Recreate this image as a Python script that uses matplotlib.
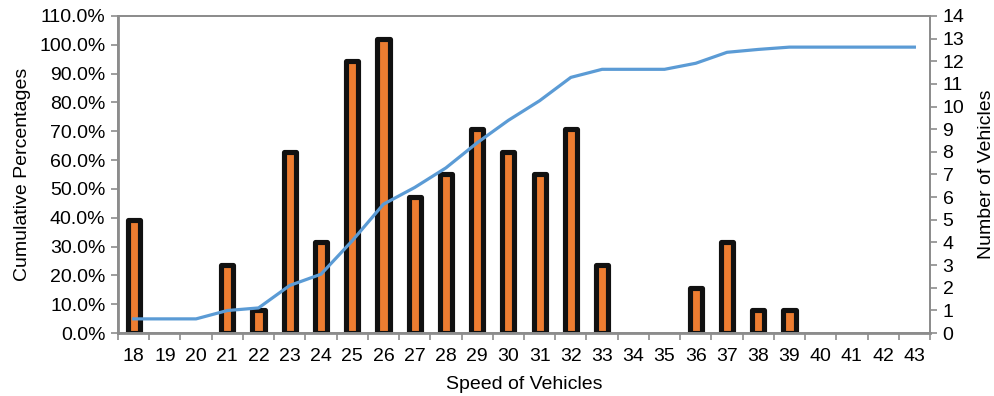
import matplotlib
matplotlib.use("Agg")
import matplotlib.pyplot as plt
from matplotlib.ticker import FixedLocator, FuncFormatter

plt.rcParams['font.family'] = ['Liberation Sans', 'DejaVu Sans']

speeds = list(range(18, 44))
vehicle_counts = [5, 0, 0, 3, 1, 8, 4, 12, 13, 6, 7, 9, 8, 7, 9, 3, 0, 0, 2, 4, 1, 1, 0, 0, 0, 0]
cumulative_pct = [4.9, 4.9, 4.9, 7.8, 8.7, 16.5, 20.4, 32.0, 44.7, 50.5, 57.3, 66.0, 73.8,
                  80.6, 88.7, 91.5, 91.5, 91.5, 93.6, 97.4, 98.4, 99.2, 99.2, 99.2, 99.2, 99.2]

spine_col = '#8C8C8C'
fs = 14

fig = plt.figure(figsize=(9.94, 3.96), dpi=100)
ax = fig.add_axes([118 / 994, 1 - 333 / 396, (930 - 118) / 994, (333 - 16) / 396])
ax2 = ax.twinx()

# counts on the right axis, drawn underneath
ax2.set_facecolor('#C0C0C0')
ax.set_zorder(ax2.get_zorder() + 1)
ax.patch.set_visible(False)

x = list(range(len(speeds)))
nonzero = [(i, c) for i, c in zip(x, vehicle_counts) if c > 0]
ax2.bar([i for i, _ in nonzero], [c for _, c in nonzero], width=0.39,
        color='#ED7D31', edgecolor='#111111', linewidth=3.7, joinstyle='round', zorder=2)
ax2.set_ylim(0, 14)
ax2.set_yticks(range(0, 15))
ax2.set_ylabel('Number of Vehicles', fontsize=fs, labelpad=10)

# cumulative percentage line on the left axis
ax.plot(x, cumulative_pct, color='#5B9BD5', linewidth=2.3, zorder=3)
ax.set_ylim(0, 110)
ax.set_yticks(range(0, 111, 10))
ax.yaxis.set_major_formatter(FuncFormatter(lambda v, _: f'{v:.1f}%'))
ax.set_ylabel('Cumulative Percentages', fontsize=fs, labelpad=6)

ax.set_xlim(-0.5, len(speeds) - 0.5)
ax.set_xticks(x)
ax.set_xticklabels([str(s) for s in speeds])
ax.xaxis.set_minor_locator(FixedLocator([i - 0.5 for i in range(len(speeds) + 1)]))
ax.tick_params(axis='x', which='major', length=0, pad=11, labelsize=fs)
ax.tick_params(axis='x', which='minor', length=5, width=1.2, color=spine_col, direction='out')
ax.set_xlabel('Speed of Vehicles', fontsize=fs, labelpad=8)

ax.tick_params(axis='y', length=5, width=1.2, color=spine_col, labelsize=fs, pad=4)
ax2.tick_params(axis='y', length=5, width=1.2, color=spine_col, labelsize=fs, pad=4)

for a in (ax, ax2):
    for s in a.spines.values():
        s.set_color(spine_col)
        s.set_linewidth(1.3)
ax.spines['left'].set_linewidth(2)
ax.spines['bottom'].set_linewidth(2)

fig.savefig('out.png', dpi=100, facecolor='white')
